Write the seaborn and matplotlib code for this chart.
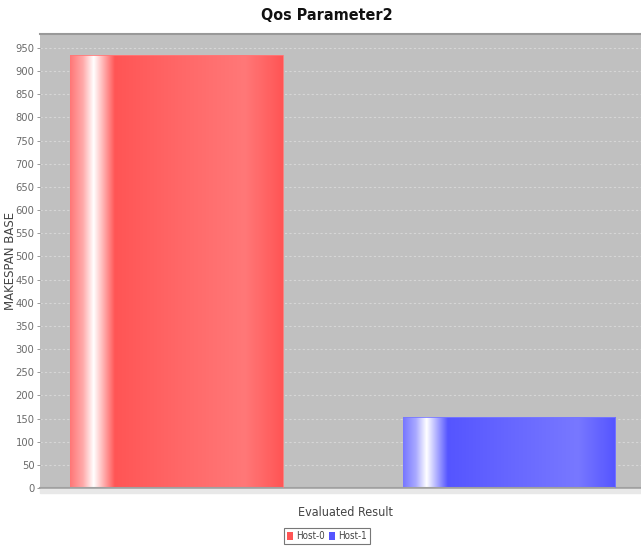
import numpy as np
import pandas as pd
import matplotlib
matplotlib.use("Agg")
import matplotlib.pyplot as plt
import seaborn as sns

# ---- data ----
categories = ["Evaluated Result"]
hosts = ["Host-0", "Host-1"]
values = [935, 153]
colors = ["#FF5555", "#5555FF"]
light_colors = ["#FF7878", "#7878FF"]
yticks = list(range(0, 951, 50))

df = pd.DataFrame({"category": categories * len(hosts), "host": hosts, "value": values})

sns.set_theme(style="white")
plt.rcParams['font.family'] = ['DejaVu Sans']
plt.rcParams['font.stretch'] = 'condensed'

fig = plt.figure(figsize=(6.41, 5.46), dpi=100)
ax = fig.add_axes([40/641, 1 - 488/546, 610/641, (488 - 34)/546])
ax.set_facecolor("#C0C0C0")

sns.barplot(data=df, x="category", y="value", hue="host", palette=colors,
            gap=0.36, ax=ax, legend=False, saturation=1, edgecolor="none", linewidth=0)

ax.set_xlim(-0.3643, 0.3697)
ax.set_ylim(0, 980)
ax.set_yticks(yticks)
ax.yaxis.grid(True, color="#D6D6D6", linestyle=(0, (2, 2)), linewidth=0.8)
ax.set_axisbelow(True)


def hex2rgb(h):
    return np.array(matplotlib.colors.to_rgb(h))


# gradient overlay on each bar
for patch, base, light in zip(ax.patches, colors, light_colors):
    b = hex2rgb(base)
    l = hex2rgb(light)
    w = np.ones(3)
    stops = [0.0, 0.06, 0.11, 0.16, 0.21, 0.5, 0.82, 1.0]
    cols = [b * 0.8 + w * 0.2, b * 0.5 + w * 0.5, w, b * 0.5 + w * 0.5, b, (b + l) / 2, l, b]
    xs = np.linspace(0, 1, 300)
    grad = np.stack([np.interp(xs, stops, [c[i] for c in cols]) for i in range(3)], axis=-1)
    grad = grad[np.newaxis, :, :]
    x0, y0 = patch.get_x(), patch.get_y()
    pw, ph = patch.get_width(), patch.get_height()
    im = ax.imshow(grad, extent=[x0, x0 + pw, y0, y0 + ph], aspect="auto", zorder=patch.get_zorder() + 0.1,
                   interpolation="bilinear")
    im.set_clip_path(patch)
    ax.plot([x0, x0 + pw, x0 + pw], [y0 + ph, y0 + ph, y0], color=l, lw=0.6, zorder=3)

ax.set_xlim(-0.3643, 0.3697)
ax.set_ylim(0, 980)

for s in ["left", "right"]:
    ax.spines[s].set_visible(False)
ax.spines["top"].set_color("#999999")
ax.spines["top"].set_linewidth(1.5)
ax.spines["bottom"].set_color("#A0A0A0")
ax.spines["bottom"].set_linewidth(1.5)

ax.tick_params(axis="y", left=True, length=2, width=0.6, color="#888888", labelsize=8,
               labelcolor="#6A6A6A", pad=2)
ax.tick_params(axis="x", bottom=True, length=3, width=0.6, color="#888888", labelbottom=False, pad=10)
ax.set_xticks([0])

ax.set_xlabel("Evaluated Result", fontsize=9, color="#444444", labelpad=10)
ax.set_ylabel("MAKESPAN BASE", fontsize=8.5, color="#444444", fontstretch='normal')
ax.yaxis.set_label_coords((17 - 40) / 610, 0.5)

fig.text(327/641, 1 - 15/546, "Qos Parameter2", ha="center", va="center", fontsize=11.5,
         fontweight="heavy", color="#111111")

# light band under axis
fig.patches.append(matplotlib.patches.Rectangle((40/641, 1 - 493/546), 610/641, 4/546,
                                                transform=fig.transFigure, color="#E8E8E8", zorder=0))

handles = [matplotlib.patches.Patch(facecolor=c, edgecolor="none", label=h) for c, h in zip(colors, hosts)]
leg = fig.legend(handles=handles, loc="center", bbox_to_anchor=(327/641, 1 - 536/546), ncol=2,
                 fontsize=7, frameon=True, fancybox=False, handlelength=0.6, handleheight=0.9,
                 handletextpad=0.3, columnspacing=0.5, borderpad=0.3, borderaxespad=0)
leg.get_frame().set_edgecolor("#555555")
leg.get_frame().set_linewidth(0.8)
for t in leg.get_texts():
    t.set_color("#444444")

fig.savefig("out.png", dpi=100)
